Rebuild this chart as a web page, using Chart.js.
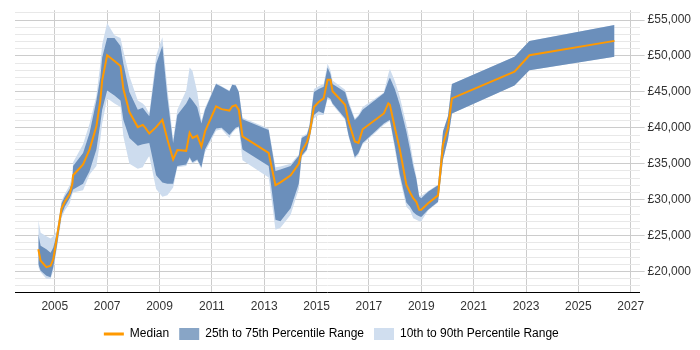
<!DOCTYPE html>
<html>
<head>
<meta charset="utf-8">
<script src="https://cdn.jsdelivr.net/npm/chart.js@4.4.1/dist/chart.umd.min.js"></script>
<style>
  html, body { margin: 0; padding: 0; background: #fff; }
  #wrap { width: 700px; height: 350px; }
</style>
</head>
<body>
<div id="wrap"><canvas id="salaryChart"></canvas></div>
<script>
// sample dates as decimal years
const years = [
    2004.37, 2004.46, 2004.68, 2004.84, 2004.94, 2005.07, 2005.26, 2005.38, 2005.57, 2005.67,
    2005.70, 2006.08, 2006.33, 2006.59, 2006.74, 2006.81, 2007.00, 2007.28, 2007.51, 2007.62,
    2007.85, 2008.17, 2008.36, 2008.46, 2008.61, 2008.87, 2009.11, 2009.30, 2009.52, 2009.68,
    2010.02, 2010.15, 2010.26, 2010.44, 2010.60, 2010.74, 2011.16, 2011.37, 2011.67, 2011.78,
    2011.91, 2012.03, 2012.17, 2013.17, 2013.43, 2013.62, 2014.01, 2014.32, 2014.43, 2014.63,
    2014.73, 2014.90, 2015.08, 2015.27, 2015.42, 2015.53, 2015.61, 2016.09, 2016.22, 2016.46,
    2016.60, 2016.76, 2017.57, 2017.74, 2017.80, 2017.99, 2018.18, 2018.43, 2018.57, 2018.69,
    2018.81, 2018.92, 2019.00, 2019.26, 2019.64, 2019.83, 2020.02, 2020.17, 2022.56, 2023.13,
    2026.38
];
const median = [
    23100, 21500, 20600, 20800, 21700, 24500, 28800, 29700, 30800, 32200,
    33400, 34900, 37000, 40200, 43800, 46600, 50100, 49300, 48600, 45400,
    42200, 40100, 40400, 40000, 39200, 40100, 41100, 38400, 35600, 36900,
    36800, 39300, 38600, 38900, 37400, 39500, 43000, 42600, 42400, 43000,
    43150, 42500, 38800, 36500, 32000, 32400, 33400, 35000, 36700, 38000,
    39200, 42900, 43600, 44100, 46700, 46700, 45100, 43200, 40900, 38100,
    37900, 39800, 42000, 43400, 43200, 40000, 37000, 32100, 31000, 30200,
    29700, 28600, 28600, 29500, 30600, 37700, 40000, 44100, 47800, 50100,
    52100
];
const p75 = [
    25200, 23600, 23100, 22600, 23300, 25200, 29500, 30400, 31500, 32600,
    34700, 36500, 39300, 43800, 47000, 49800, 52500, 52500, 51400, 48900,
    45000, 42500, 42800, 42300, 41600, 48900, 51400, 44300, 37900, 41800,
    43400, 44300, 43800, 42900, 40600, 42500, 46100, 45700, 45100, 46000,
    45900, 45000, 41200, 39700, 34000, 34200, 34700, 36100, 38600, 39000,
    40300, 45000, 45400, 45700, 48400, 47500, 46100, 45000, 43400, 41100,
    41600, 42500, 44800, 46500, 47000, 45400, 43200, 39500, 37000, 34700,
    32900, 30400, 30200, 31100, 32000, 39500, 41600, 46100, 49900, 52100,
    54300
];
const p25 = [
    21000, 20100, 19400, 19200, 20600, 23300, 27900, 29000, 30200, 31100,
    31400, 32200, 34000, 37000, 40600, 42500, 45200, 44500, 43800, 41100,
    38600, 37500, 37700, 37800, 37900, 33400, 32400, 32200, 32200, 34700,
    34900, 35900, 35200, 35600, 34500, 37000, 39900, 40000, 39000, 39500,
    40000, 40200, 37000, 34700, 27200, 27000, 28800, 32200, 36100, 37000,
    38500, 41800, 42300, 42000, 44300, 44000, 43400, 41300, 39000, 35900,
    36500, 37900, 40600, 41000, 41100, 37500, 33500, 29600, 29000, 28300,
    27900, 27700, 27600, 28600, 29700, 35600, 38400, 42000, 45900, 48000,
    49900
];
const p90 = [
    27200, 25400, 24900, 24600, 24900, 25600, 29800, 30800, 32000, 33500,
    35200, 37700, 40600, 44500, 48900, 51600, 54600, 52900, 52500, 50700,
    47200, 43800, 43400, 43000, 42000, 50000, 52600, 45500, 38400, 42500,
    45200, 48400, 47900, 45000, 41000, 42800, 46200, 45800, 45200, 46100,
    46000, 45100, 41400, 39900, 34500, 34600, 35000, 36300, 38800, 39200,
    40500, 45400, 45800, 46100, 48900, 48000, 46600, 45300, 43800, 41300,
    41800, 42900, 44900, 47500, 48200, 46500, 44300, 40500, 38000, 35400,
    33200, 30600, 30500, 31200, 32100, 39600, 41700, 46100, 49900, 52100,
    54300
];
const p10 = [
    20600, 19900, 19000, 19000, 20100, 23000, 27500, 28500, 29500, 30800,
    31000, 31300, 33500, 34700, 38400, 40600, 44100, 43400, 42900, 38800,
    35000, 34300, 34500, 35200, 36100, 31500, 30400, 30600, 31700, 34500,
    34700, 35700, 35000, 35400, 34300, 36600, 39600, 39800, 38600, 39300,
    39800, 40000, 35500, 33100, 25800, 26100, 27900, 31500, 35900, 36800,
    38300, 41300, 41800, 41800, 44000, 43800, 43200, 41100, 38800, 35700,
    36300, 37700, 40400, 40800, 40900, 37000, 33000, 29000, 28500, 27400,
    27200, 27000, 27000, 28500, 29600, 35500, 38300, 42000, 45900, 48000,
    49900
];
const tickYears = [2005, 2007, 2009, 2011, 2013, 2015, 2017, 2019, 2021, 2023, 2025, 2027];
const legendNames = ["Median", "25th to 75th Percentile Range", "10th to 90th Percentile Range"];

const orange = "#ff9900";
const darkBand = "#6b8fbb";
const lightBand = "#cddcee";

function points(values) {
    return years.map((x, i) => ({ x: x, y: values[i] }));
}

Chart.defaults.font.family = "'Liberation Sans', Arial, sans-serif";
Chart.defaults.font.size = 12;
Chart.defaults.color = "#333";

// center the legend on the plot area instead of the whole canvas
const legendOnPlot = {
    id: "legendOnPlot",
    beforeDraw(chart) {
        chart.legend.left = chart.chartArea.left;
        chart.legend.right = chart.chartArea.right + 8;
    }
};

const ctx = document.getElementById("salaryChart").getContext("2d");
new Chart(ctx, {
    type: "line",
    data: {
        datasets: [
            { label: legendNames[0], data: points(median), borderColor: orange, borderWidth: 2, fill: false },
            { label: "p75", data: points(p75), borderColor: darkBand, backgroundColor: darkBand, borderWidth: 0, fill: "+1" },
            { label: "p25", data: points(p25), borderColor: darkBand, borderWidth: 0, fill: false },
            { label: "p90", data: points(p90), borderColor: lightBand, backgroundColor: lightBand, borderWidth: 0, fill: "+1" },
            { label: "p10", data: points(p10), borderColor: lightBand, borderWidth: 0, fill: false }
        ]
    },
    options: {
        responsive: true,
        maintainAspectRatio: false,
        animation: false,
        events: [],
        layout: { padding: { left: 15, right: 6, top: 5, bottom: 0 } },
        elements: { point: { radius: 0 }, line: { tension: 0 } },
        scales: {
            x: {
                type: "linear",
                min: 2003.48,
                max: 2027.34,
                afterBuildTicks: scale => { scale.ticks = tickYears.map(v => ({ value: v })); },
                afterFit: scale => { scale.height = 26; },
                ticks: { autoSkip: false, maxRotation: 0, padding: 7, callback: v => String(v) },
                grid: { color: "#cccccc", drawTicks: false },
                border: { color: "#000", width: 1 }
            },
            y: {
                type: "linear",
                position: "right",
                min: 17150,
                max: 56370,
                afterBuildTicks: scale => {
                    const t = [];
                    for (let v = 18000; v <= 56000; v += 1000) t.push({ value: v });
                    scale.ticks = t;
                },
                ticks: {
                    autoSkip: false,
                    padding: 3,
                    callback: v => v % 5000 === 0 ? "£" + v.toLocaleString("en-GB") : ""
                },
                grid: {
                    color: c => c.tick && c.tick.value % 5000 === 0 ? "#cccccc" : "#e8e8e8",
                    tickColor: c => c.tick && c.tick.value % 5000 === 0 ? "#cccccc" : "rgba(0,0,0,0)",
                    tickLength: 5
                },
                border: { display: false }
            }
        },
        plugins: {
            tooltip: { enabled: false },
            legend: {
                position: "bottom",
                labels: {
                    boxWidth: 20,
                    boxHeight: 12,
                    padding: 10,
                    usePointStyle: true,
                    pointStyleWidth: 20,
                    generateLabels: () => [
                        { text: legendNames[0], pointStyle: "line", strokeStyle: orange, fillStyle: orange, lineWidth: 3, datasetIndex: 0 },
                        { text: legendNames[1], pointStyle: "rect", fillStyle: "#88a5c6", strokeStyle: "#88a5c6", lineWidth: 0, datasetIndex: 1 },
                        { text: legendNames[2], pointStyle: "rect", fillStyle: "#d0deef", strokeStyle: "#d0deef", lineWidth: 0, datasetIndex: 3 }
                    ]
                }
            }
        }
    },
    plugins: [legendOnPlot]
});
</script>
</body>
</html>
